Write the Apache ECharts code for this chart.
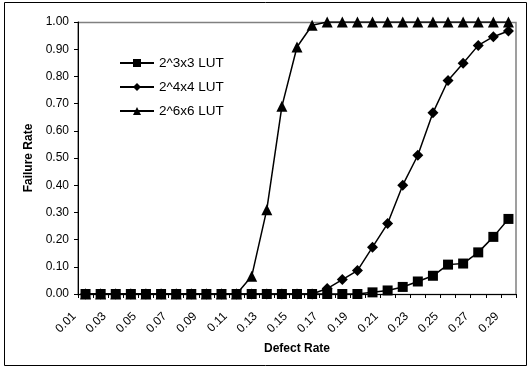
<!DOCTYPE html>
<html style="height: 100%">
<head>
    <meta charset="utf-8">
    <title>Failure Rate vs Defect Rate</title>
</head>
<body style="height: 100%; margin: 0; background: #fff">
<div id="container" style="width: 530px; height: 368px"></div>
<script type="text/javascript" src="https://cdn.jsdelivr.net/npm/echarts@6/dist/echarts.min.js"></script>
<script type="text/javascript">
    // defect rate categories 0.01 .. 0.29
    var categories = ['0.01', '0.02', '0.03', '0.04', '0.05', '0.06', '0.07', '0.08', '0.09', '0.10',
        '0.11', '0.12', '0.13', '0.14', '0.15', '0.16', '0.17', '0.18', '0.19', '0.20',
        '0.21', '0.22', '0.23', '0.24', '0.25', '0.26', '0.27', '0.28', '0.29'];

    var lut3 = [0, 0, 0, 0, 0, 0, 0, 0, 0, 0,
        0, 0, 0, 0, 0, 0, 0, 0, 0, 0.006,
        0.013, 0.026, 0.046, 0.067, 0.108, 0.112, 0.153, 0.21, 0.276];

    var lut4 = [0, 0, 0, 0, 0, 0, 0, 0, 0, 0,
        0, 0, 0, 0, 0, 0, 0.02, 0.053, 0.086, 0.172,
        0.259, 0.40, 0.51, 0.666, 0.785, 0.848, 0.914, 0.946, 0.967];

    var lut6 = [0, 0, 0, 0, 0, 0, 0, 0, 0, 0,
        0, 0.065, 0.31, 0.69, 0.908, 0.988, 1, 1, 1, 1,
        1, 1, 1, 1, 1, 1, 1, 1, 1];

    var seriesNames = ['2^3x3 LUT', '2^4x4 LUT', '2^6x6 LUT'];

    var myChart = echarts.init(document.getElementById('container'));
    var font = 'Liberation Sans, Arial, sans-serif';

    function lineSeries(name, data, symbol, size) {
        return {
            name: name,
            type: 'line',
            data: data,
            symbol: symbol,
            symbolSize: size,
            showAllSymbol: true,
            lineStyle: {color: '#000', width: 1.5},
            itemStyle: {color: '#000'}
        };
    }

    var option = {
        backgroundColor: '#fff',
        animation: false,
        textStyle: {fontFamily: font},
        graphic: [{
            type: 'rect',
            shape: {x: 4.5, y: 2.5, width: 522, height: 363},
            style: {fill: 'none', stroke: '#000', lineWidth: 1}
        }, {
            type: 'rect',
            shape: {x: 78, y: 22.5, width: 438, height: 272},
            style: {fill: 'none', stroke: '#808080', lineWidth: 1.5},
            z: 0
        }],
        legend: {
            orient: 'vertical',
            left: 114,
            top: 51,
            itemGap: 10,
            itemWidth: 34,
            itemHeight: 10,
            textStyle: {fontFamily: font, fontSize: 13.5, lineHeight: 14, color: '#000'},
            data: seriesNames
        },
        grid: {left: 78, right: 14, top: 22, bottom: 74},
        xAxis: {
            type: 'category',
            data: categories,
            boundaryGap: true,
            name: 'Defect Rate',
            nameLocation: 'middle',
            nameGap: 49,
            nameTextStyle: {fontFamily: font, fontSize: 12, fontWeight: 'bold', color: '#000'},
            axisLine: {lineStyle: {color: '#000', width: 1}},
            axisTick: {show: true, interval: 0, length: 4, lineStyle: {color: '#000'}},
            axisLabel: {
                interval: 1, rotate: 45, fontSize: 12, color: '#000', margin: 9,
                padding: [0, 16, 0, 0], fontFamily: font
            },
            splitLine: {show: false}
        },
        yAxis: {
            type: 'value',
            min: 0,
            max: 1,
            interval: 0.1,
            name: 'Failure Rate',
            nameLocation: 'middle',
            nameGap: 42,
            nameTextStyle: {fontFamily: font, fontSize: 12, fontWeight: 'bold', color: '#000'},
            axisLine: {show: true, lineStyle: {color: '#000', width: 1}},
            axisTick: {show: true, length: 4, lineStyle: {color: '#000'}},
            axisLabel: {
                fontSize: 12, color: '#000', margin: 9, fontFamily: font,
                formatter: function (v) { return v.toFixed(2); }
            },
            splitLine: {show: false}
        },
        series: [
            lineSeries(seriesNames[0], lut3, 'rect', 10),
            lineSeries(seriesNames[1], lut4, 'diamond', 11),
            lineSeries(seriesNames[2], lut6, 'triangle', 11)
        ]
    };

    myChart.setOption(option, true);
</script>
</body>
</html>
